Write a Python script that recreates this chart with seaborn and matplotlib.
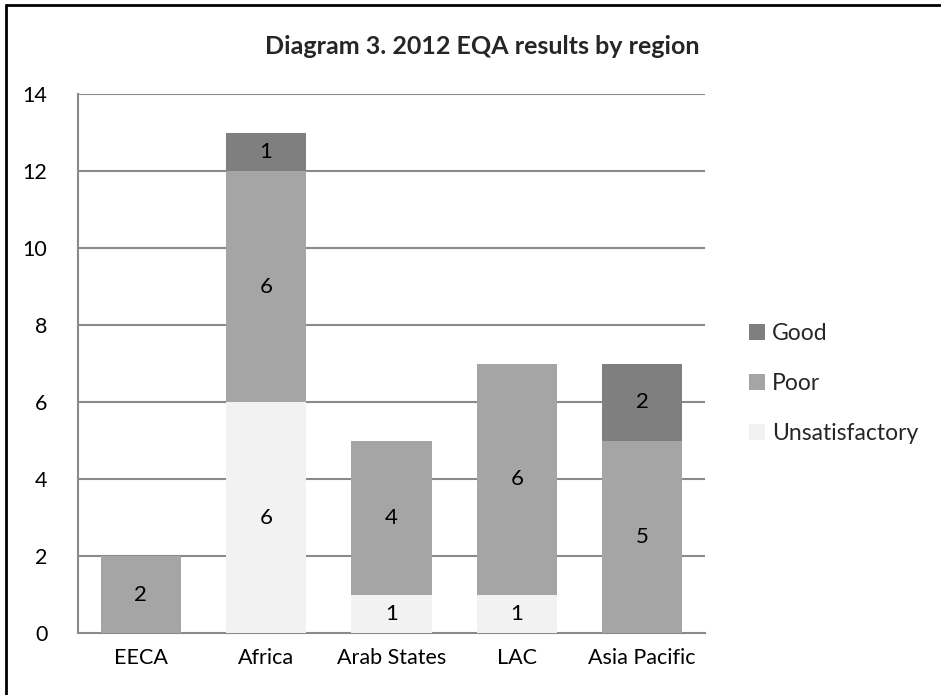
import matplotlib
matplotlib.use("Agg")
import matplotlib.pyplot as plt
import seaborn as sns
import pandas as pd
import numpy as np
from matplotlib.lines import Line2D
from matplotlib.patches import Patch

regions = ["EECA", "Africa", "Arab States", "LAC", "Asia Pacific"]
unsatisfactory = [0, 6, 1, 1, 0]
poor = [2, 6, 4, 6, 5]
good = [0, 1, 0, 0, 2]
series_names = ["Good", "Poor", "Unsatisfactory"]
colors = {"Good": "#7f7f7f", "Poor": "#a5a5a5", "Unsatisfactory": "#f2f2f2"}
yticks = [0, 2, 4, 6, 8, 10, 12, 14]

sns.set_theme(style="white")
plt.rcParams['font.family'] = ['Lato', 'DejaVu Sans']

fig = plt.figure(figsize=(9.41, 6.95), dpi=100)
ax = fig.add_axes([0.0829, 0.0892, 0.749 - 0.0829, 0.8647 - 0.0892])

u = np.array(unsatisfactory)
p = np.array(poor)
g = np.array(good)
df = pd.DataFrame({
    "region": regions,
    "total": u + p + g,
    "up": u + p,
    "u": u,
})

grid_c = "#8a8a8a"
for y in yticks[1:]:
    ax.axhline(y, color=grid_c, lw=1.5, zorder=0)

sns.barplot(data=df, x="region", y="total", color=colors["Good"], width=0.64,
            saturation=1, ax=ax, zorder=2, linewidth=0)
sns.barplot(data=df, x="region", y="up", color=colors["Poor"], width=0.64,
            saturation=1, ax=ax, zorder=3, linewidth=0)
sns.barplot(data=df, x="region", y="u", color=colors["Unsatisfactory"], width=0.64,
            saturation=1, ax=ax, zorder=4, linewidth=0)

# labels
for i in range(len(regions)):
    segs = [(u[i], 0), (p[i], u[i]), (g[i], u[i] + p[i])]
    for val, base in segs:
        if val > 0:
            ax.text(i, base + val / 2, str(val), ha="center", va="center",
                    fontsize=16, color="black", zorder=6)

ax.set_ylim(0, 14)
ax.set_xlim(-0.5, 4.5)
ax.set_yticks(yticks)
ax.set_xlabel("")
ax.set_ylabel("")
ax.tick_params(axis="both", length=0, labelsize=15.5, colors="black")
ax.tick_params(axis="y", pad=22)
ax.tick_params(axis="x", pad=11)
for s in ["top", "right"]:
    ax.spines[s].set_visible(False)
ax.spines["left"].set_color(grid_c)
ax.spines["left"].set_linewidth(1.5)
ax.spines["bottom"].set_color(grid_c)
ax.spines["bottom"].set_linewidth(1.5)

handles = [Patch(facecolor=colors[n], edgecolor="none", label=n) for n in series_names]
fig.legend(handles=handles, loc="center left", bbox_to_anchor=(0.774, 0.448),
           frameon=False, fontsize=16.5, handlelength=0.7, handleheight=0.7,
           handletextpad=0.3, labelspacing=1.25)

fig.text(0.512, 0.933, "Diagram 3. 2012 EQA results by region", ha="center",
         va="center", fontsize=18, fontweight="bold")

# frame (left and top edges visible)
fig.add_artist(Line2D([0.0068, 0.0068], [0.0, 0.9935], transform=fig.transFigure,
                      color="black", lw=2))
fig.add_artist(Line2D([0.0068, 1.0], [0.9935, 0.9935], transform=fig.transFigure,
                      color="black", lw=2))

fig.savefig("out.png", dpi=100)
